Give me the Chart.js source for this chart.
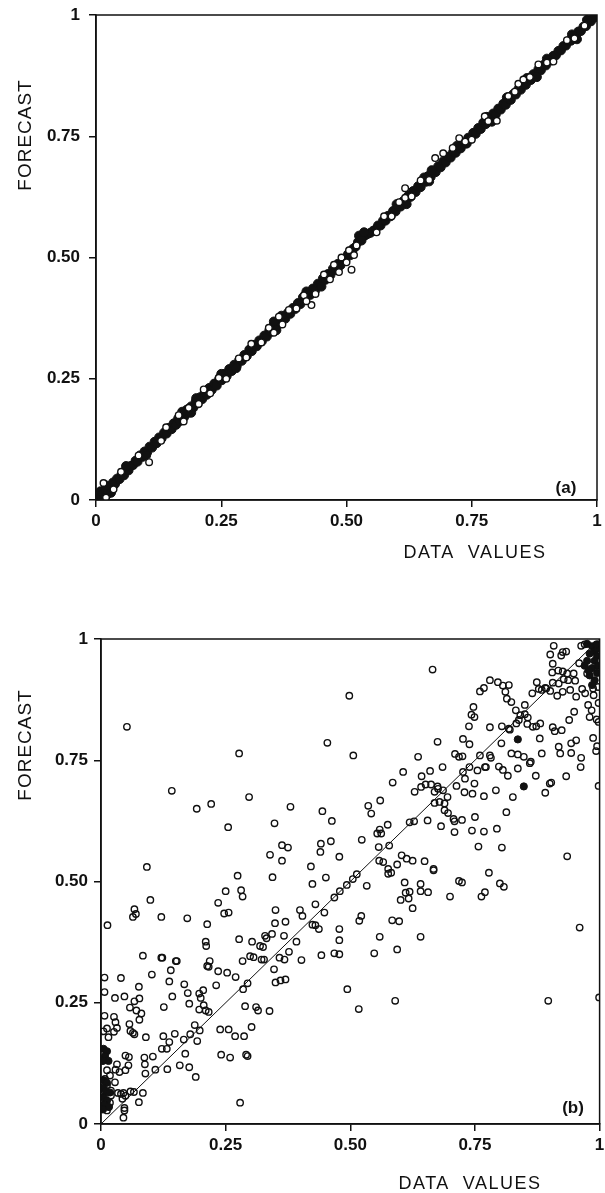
<!DOCTYPE html>
<html>
<head>
<meta charset="utf-8">
<script src="https://cdn.jsdelivr.net/npm/chart.js@4.4.1/dist/chart.umd.min.js"></script>
<style>
  html, body { margin: 0; padding: 0; background: #fff; }
  #wrap { position: relative; width: 605px; height: 1193px; }
  .panel { position: absolute; left: 0; width: 605px; }
  #panelA { top: 0; height: 600px; }
  #panelB { top: 600px; height: 593px; }
</style>
</head>
<body>
<div id="wrap">
  <div class="panel" id="panelA"><canvas id="chartA"></canvas></div>
  <div class="panel" id="panelB"><canvas id="chartB"></canvas></div>
</div>
<script>
// axis ticks (same on both panels)
const tickValues = [0, 0.25, 0.5, 0.75, 1];
const tickLabels = ["0", "0.25", "0.50", "0.75", "1"];
const xTitle = "DATA  VALUES";
const yTitle = "FORECAST";
const panelLabels = ["(a)", "(b)"];

// 1:1 reference line
const diagonal = [[0, 0], [1, 1]];

// panel (a): dense band of points on the diagonal
const topSolid = [
  [0.002,0.003],[0.004,0.012],[0.007,0.002],[0.009,0.018],[0.011,0.007],[0.014,0.013],[0.016,0.003],[0.019,0.021],[0.021,0.01],[0.024,0.017],
  [0.027,0.026],[0.031,0.024],[0.034,0.036],[0.038,0.033],[0.042,0.044],[0.047,0.043],[0.051,0.053],[0.056,0.051],[0.06,0.063],[0.065,0.061],
  [0.069,0.07],[0.074,0.072],[0.079,0.081],[0.083,0.079],[0.088,0.092],[0.093,0.089],[0.097,0.1],[0.102,0.098],[0.107,0.11],[0.112,0.108],
  [0.117,0.12],[0.121,0.117],[0.126,0.129],[0.131,0.127],[0.136,0.139],[0.141,0.137],[0.146,0.149],[0.151,0.146],[0.155,0.158],[0.16,0.155],
  [0.164,0.168],[0.168,0.163],[0.172,0.176],[0.176,0.171],[0.181,0.186],[0.185,0.18],[0.19,0.193],[0.194,0.19],[0.199,0.203],[0.203,0.199],
  [0.208,0.212],[0.212,0.208],[0.217,0.222],[0.221,0.217],[0.226,0.231],[0.231,0.227],[0.236,0.24],[0.241,0.236],[0.246,0.25],[0.251,0.247],
  [0.256,0.26],[0.261,0.256],[0.266,0.27],[0.271,0.266],[0.276,0.279],[0.281,0.277],[0.286,0.289],[0.291,0.287],[0.296,0.299],[0.301,0.297],
  [0.306,0.31],[0.311,0.307],[0.316,0.32],[0.321,0.317],[0.326,0.329],[0.331,0.327],[0.336,0.339],[0.341,0.337],[0.346,0.35],[0.35,0.347],
  [0.355,0.361],[0.359,0.356],[0.364,0.369],[0.368,0.364],[0.373,0.377],[0.378,0.374],[0.383,0.386],[0.388,0.384],[0.393,0.396],[0.398,0.394],
  [0.403,0.406],[0.408,0.404],[0.413,0.418],[0.418,0.414],[0.423,0.427],[0.428,0.423],[0.433,0.436],[0.438,0.433],[0.443,0.446],[0.448,0.444],
  [0.453,0.457],[0.458,0.454],[0.463,0.466],[0.468,0.464],[0.473,0.477],[0.478,0.474],[0.483,0.487],[0.488,0.484],[0.493,0.497],[0.498,0.495],
  [0.503,0.507],[0.508,0.505],[0.513,0.518],[0.518,0.522],[0.523,0.532],[0.528,0.538],[0.533,0.543],[0.538,0.546],[0.543,0.549],[0.548,0.551],
  [0.553,0.555],[0.558,0.558],[0.563,0.566],[0.568,0.566],[0.573,0.576],[0.578,0.576],[0.583,0.586],[0.588,0.585],[0.593,0.596],[0.598,0.595],
  [0.603,0.606],[0.608,0.605],[0.613,0.616],[0.618,0.615],[0.623,0.627],[0.628,0.625],[0.633,0.637],[0.638,0.635],[0.643,0.647],[0.648,0.645],
  [0.653,0.657],[0.658,0.656],[0.663,0.668],[0.668,0.666],[0.673,0.678],[0.678,0.676],[0.683,0.688],[0.688,0.686],[0.693,0.698],[0.698,0.696],
  [0.703,0.708],[0.708,0.706],[0.713,0.718],[0.718,0.716],[0.723,0.728],[0.728,0.725],[0.733,0.737],[0.738,0.735],[0.743,0.747],[0.748,0.745],
  [0.753,0.757],[0.758,0.755],[0.763,0.767],[0.768,0.765],[0.773,0.778],[0.778,0.775],[0.783,0.788],[0.788,0.785],[0.793,0.797],[0.798,0.795],
  [0.803,0.807],[0.808,0.805],[0.813,0.817],[0.818,0.815],[0.823,0.827],[0.828,0.825],[0.833,0.837],[0.838,0.836],[0.843,0.847],[0.848,0.846],
  [0.853,0.857],[0.858,0.856],[0.863,0.868],[0.868,0.866],[0.873,0.878],[0.878,0.876],[0.883,0.888],[0.888,0.886],[0.893,0.897],[0.898,0.896],
  [0.903,0.906],[0.908,0.906],[0.913,0.916],[0.918,0.917],[0.923,0.926],[0.928,0.927],[0.933,0.936],[0.938,0.937],[0.943,0.946],[0.948,0.947],
  [0.953,0.956],[0.958,0.957],[0.963,0.966],[0.968,0.967],[0.973,0.976],[0.978,0.977],[0.983,0.986],[0.988,0.987],[0.993,0.995],[0.997,0.996],
  // lumps where the band is thicker
  [0.02,0.03],[0.03,0.015],[0.06,0.07],[0.1,0.092],[0.172,0.182],[0.19,0.18],[0.2,0.21],[0.25,0.26],[0.28,0.272],[0.355,0.368],
  [0.36,0.35],[0.37,0.38],[0.42,0.43],[0.45,0.44],[0.525,0.545],[0.535,0.552],[0.53,0.535],[0.6,0.61],[0.62,0.61],[0.655,0.665],
  [0.665,0.657],[0.67,0.68],[0.72,0.73],[0.74,0.735],[0.78,0.79],[0.79,0.78],[0.82,0.83],[0.86,0.87],[0.88,0.872],[0.9,0.91],
  [0.95,0.96],[0.96,0.95],[0.98,0.99]
];

// panel (a): open circles along the edges of the band
const topOpen = [
  [0.015,0.035],[0.106,0.078],[0.02,0.005],[0.035,0.022],[0.05,0.058],[0.085,0.092],[0.13,0.122],[0.14,0.15],[0.165,0.175],[0.175,0.162],
  [0.185,0.19],[0.205,0.198],[0.215,0.228],[0.228,0.22],[0.245,0.252],[0.26,0.25],[0.285,0.292],[0.3,0.294],[0.31,0.322],[0.33,0.325],
  [0.345,0.355],[0.355,0.345],[0.365,0.378],[0.372,0.362],[0.385,0.392],[0.4,0.395],[0.415,0.422],[0.43,0.402],[0.42,0.41],[0.438,0.425],
  [0.455,0.465],[0.467,0.455],[0.475,0.485],[0.485,0.47],[0.49,0.5],[0.5,0.49],[0.505,0.515],[0.515,0.505],[0.52,0.525],[0.51,0.475],
  [0.56,0.552],[0.575,0.585],[0.59,0.585],[0.605,0.614],[0.617,0.643],[0.617,0.623],[0.63,0.626],[0.648,0.659],[0.665,0.66],[0.677,0.705],
  [0.693,0.715],[0.712,0.726],[0.725,0.746],[0.737,0.739],[0.75,0.743],[0.776,0.791],[0.783,0.781],[0.8,0.782],[0.823,0.833],[0.836,0.842],
  [0.843,0.858],[0.853,0.867],[0.866,0.872],[0.883,0.898],[0.9,0.902],[0.913,0.904],[0.94,0.948],[0.955,0.952],[0.975,0.978]
];

// panel (b): open circles
const bottomOpen = [
  [0.052,0.819],[0.277,0.764],[0.142,0.687],[0.192,0.65],[0.221,0.66],[0.297,0.674],[0.38,0.654],[0.255,0.612],[0.348,0.62],[0.363,0.575],
  [0.375,0.57],[0.339,0.555],[0.363,0.543],[0.092,0.53],
  [0.665,0.937],[0.498,0.883],[0.454,0.786],[0.506,0.76],[0.675,0.788],[0.636,0.757],[0.726,0.794],[0.739,0.783],
  [0.78,0.915],[0.796,0.911],[0.806,0.904],[0.818,0.905],[0.76,0.892],[0.768,0.899],[0.811,0.891],[0.814,0.877],[0.823,0.87],
  [0.747,0.86],[0.743,0.844],[0.749,0.839],[0.738,0.82],[0.78,0.818],[0.804,0.82],[0.818,0.815],
  [0.832,0.853],[0.841,0.843],[0.85,0.845],[0.856,0.838],[0.838,0.833],[0.855,0.825],[0.866,0.819],[0.873,0.82],[0.881,0.826],
  [0.85,0.864],[0.865,0.888],[0.878,0.897],[0.874,0.911],[0.891,0.899],
  [0.908,0.986],[0.901,0.968],[0.906,0.949],[0.926,0.973],[0.933,0.974],[0.923,0.966],
  [0.905,0.931],[0.917,0.935],[0.926,0.933],[0.935,0.929],[0.948,0.929],
  [0.906,0.91],[0.918,0.908],[0.928,0.917],[0.937,0.915],[0.951,0.914],
  [0.884,0.895],[0.893,0.898],[0.901,0.893],[0.915,0.883],[0.926,0.891],[0.941,0.895],
  [0.953,0.881],[0.965,0.897],[0.971,0.888],[0.987,0.898],[0.988,0.884],[0.997,0.901],
  [0.963,0.986],[0.97,0.989],[0.959,0.95],[0.975,0.929],[0.979,0.936],
  [0.998,0.868],[0.998,0.829],[0.994,0.834],[0.987,0.796],[0.995,0.779],[0.993,0.769],[0.998,0.697],
  [0.977,0.864],[0.984,0.853],[0.98,0.839],[0.949,0.85],[0.939,0.833],
  [0.953,0.791],[0.943,0.785],[0.963,0.755],[0.962,0.736],[0.933,0.717],[0.943,0.765],[0.921,0.764],[0.918,0.778],
  [0.906,0.818],[0.91,0.81],[0.924,0.812],[0.884,0.764],[0.88,0.795],[0.903,0.704],[0.9,0.702],
  [0.891,0.683],[0.872,0.718],[0.862,0.747],[0.848,0.757],[0.836,0.762],[0.823,0.764],
  [0.86,0.744],[0.836,0.733],[0.816,0.718],[0.806,0.73],[0.798,0.737],[0.803,0.785],[0.82,0.813],[0.833,0.826],
  [0.78,0.76],[0.76,0.76],[0.772,0.736],[0.755,0.729],
  [0.826,0.674],[0.813,0.643],[0.792,0.688],[0.768,0.676],[0.749,0.702],[0.745,0.681],[0.729,0.684],[0.73,0.712],
  [0.713,0.697],[0.726,0.726],[0.739,0.736],[0.77,0.736],[0.782,0.755],[0.71,0.763],[0.718,0.757],[0.725,0.758],
  [0.685,0.736],[0.66,0.728],[0.643,0.717],[0.675,0.696],
  [0.606,0.726],[0.585,0.704],[0.56,0.667],[0.536,0.656],[0.542,0.64],
  [0.629,0.685],[0.642,0.695],[0.651,0.7],[0.662,0.7],
  [0.669,0.685],[0.676,0.691],[0.686,0.688],[0.695,0.674],[0.689,0.661],[0.679,0.664],[0.669,0.662],
  [0.689,0.647],[0.696,0.641],[0.707,0.629],[0.709,0.624],[0.724,0.627],[0.709,0.602],[0.682,0.614],[0.655,0.626],[0.628,0.624],[0.619,0.622],
  [0.554,0.599],[0.562,0.599],[0.559,0.607],[0.575,0.617],[0.523,0.586],[0.478,0.551],[0.461,0.583],[0.441,0.578],[0.44,0.561],[0.444,0.645],
  [0.463,0.625],[0.421,0.531],
  [0.557,0.571],[0.578,0.574],[0.558,0.543],[0.566,0.54],[0.576,0.526],[0.594,0.535],[0.603,0.554],[0.613,0.547],[0.625,0.543],[0.649,0.542],
  [0.667,0.526],[0.757,0.572],[0.804,0.57],[0.794,0.609],[0.768,0.603],[0.744,0.605],[0.75,0.633],[0.935,0.552],
  [0.274,0.512],[0.344,0.509],[0.25,0.48],[0.281,0.482],[0.284,0.469],[0.235,0.456],[0.247,0.434],[0.256,0.436],[0.099,0.462],[0.067,0.443],
  [0.07,0.433],[0.064,0.427],[0.121,0.427],[0.173,0.424],[0.213,0.412],[0.013,0.41],[0.35,0.441],[0.37,0.417],[0.349,0.414],
  [0.277,0.381],[0.21,0.376],[0.211,0.367],[0.303,0.376],[0.329,0.388],[0.332,0.383],[0.343,0.392],[0.367,0.388],[0.392,0.376],
  [0.319,0.367],[0.325,0.365],[0.299,0.346],[0.306,0.344],[0.284,0.336],[0.322,0.339],[0.327,0.339],[0.358,0.343],[0.368,0.339],[0.377,0.355],
  [0.347,0.319],[0.35,0.292],[0.36,0.296],[0.37,0.298],
  [0.084,0.347],[0.121,0.343],[0.123,0.343],[0.152,0.336],[0.15,0.336],
  [0.04,0.301],[0.007,0.302],[0.102,0.308],[0.14,0.317],[0.137,0.294],
  [0.213,0.326],[0.216,0.324],[0.218,0.336],[0.235,0.315],[0.253,0.312],[0.27,0.303],
  [0.167,0.288],[0.231,0.286],[0.294,0.29],[0.285,0.278],
  [0.076,0.283],[0.007,0.272],[0.028,0.26],[0.047,0.263],[0.143,0.263],[0.174,0.27],[0.197,0.269],[0.2,0.26],[0.205,0.276],
  [0.177,0.248],[0.126,0.241],[0.058,0.24],
  [0.067,0.253],[0.077,0.259],[0.071,0.234],[0.081,0.228],[0.077,0.215],[0.206,0.245],[0.21,0.234],[0.216,0.231],[0.197,0.236],
  [0.007,0.223],[0.026,0.221],[0.029,0.21],[0.012,0.197],[0.005,0.191],[0.015,0.179],[0.026,0.19],[0.032,0.198],[0.057,0.206],
  [0.059,0.192],[0.064,0.188],[0.067,0.185],[0.09,0.179],[0.125,0.181],[0.148,0.186],[0.137,0.169],[0.132,0.155],[0.166,0.174],[0.179,0.185],
  [0.188,0.204],[0.193,0.171],[0.198,0.193],
  [0.122,0.155],[0.104,0.139],[0.087,0.137],[0.049,0.141],[0.056,0.138],[0.055,0.121],[0.032,0.123],[0.029,0.112],[0.037,0.107],[0.049,0.111],
  [0.088,0.123],[0.089,0.104],[0.109,0.112],[0.133,0.113],[0.158,0.121],[0.169,0.145],[0.177,0.117],[0.19,0.097],
  [0.012,0.111],[0.018,0.1],[0.008,0.093],[0.028,0.086],[0.012,0.08],[0.007,0.069],[0.02,0.069],[0.02,0.059],[0.034,0.064],[0.04,0.062],
  [0.045,0.064],[0.049,0.058],[0.059,0.067],[0.066,0.066],[0.084,0.064],[0.076,0.045],
  [0.043,0.052],[0.047,0.033],[0.047,0.028],[0.045,0.013],[0.018,0.044],[0.012,0.028],
  [0.279,0.044],[0.291,0.143],[0.241,0.143],[0.259,0.137],
  [0.239,0.195],[0.256,0.195],[0.269,0.181],[0.287,0.181],[0.294,0.14],[0.302,0.2],
  [0.289,0.243],[0.311,0.241],[0.315,0.234],[0.338,0.233],
  [0.399,0.441],[0.404,0.429],[0.402,0.338],
  [0.424,0.495],[0.451,0.508],[0.43,0.453],[0.448,0.436],[0.424,0.411],[0.43,0.41],[0.437,0.402],
  [0.468,0.467],[0.479,0.48],[0.493,0.493],[0.505,0.505],[0.513,0.515],
  [0.533,0.491],[0.576,0.516],[0.582,0.518],[0.667,0.523],
  [0.609,0.498],[0.601,0.462],[0.611,0.477],[0.619,0.479],[0.617,0.465],[0.625,0.445],[0.641,0.495],[0.641,0.48],[0.656,0.478],
  [0.7,0.469],[0.718,0.501],[0.724,0.498],[0.763,0.469],[0.77,0.478],[0.778,0.518],[0.8,0.496],[0.808,0.489],
  [0.522,0.429],[0.518,0.419],[0.478,0.402],[0.478,0.379],[0.468,0.352],[0.478,0.35],[0.442,0.348],
  [0.559,0.386],[0.548,0.352],[0.584,0.42],[0.598,0.418],[0.594,0.36],[0.641,0.386],
  [0.494,0.278],[0.517,0.237],[0.59,0.254],[0.897,0.254],[0.96,0.405],[0.999,0.261]
];

// panel (b): solid (overlapping) points
const bottomSolid = [
  [0.985,0.985],[0.99,0.975],[0.995,0.965],[0.98,0.97],[0.975,0.99],[0.99,0.955],[0.985,0.94],[0.995,0.93],[0.98,0.925],[0.99,0.915],
  [0.997,0.945],[0.975,0.955],[0.985,0.905],[0.995,0.98],[0.97,0.945],[0.978,0.935],[0.994,0.989],
  [0.005,0.155],[0.012,0.15],[0.008,0.14],[0.015,0.13],[0.004,0.13],[0.006,0.09],[0.012,0.085],[0.004,0.075],[0.01,0.068],[0.018,0.065],
  [0.005,0.055],[0.012,0.048],[0.006,0.04],[0.016,0.035],[0.004,0.03],
  [0.836,0.793],[0.848,0.696]
];

const FONT = '"Liberation Sans", Arial, Helvetica, sans-serif';
const INK = '#111';

const toXY = (arr) => arr.map(p => ({ x: p[0], y: p[1] }));

// frame + free text (axis titles, panel letter)
const panelDecor = {
  id: 'panelDecor',
  afterDraw(chart, args, o) {
    const { ctx, chartArea: a } = chart;
    ctx.save();
    ctx.strokeStyle = INK;
    ctx.lineWidth = 1.5;
    ctx.strokeRect(a.left, a.top, a.right - a.left, a.bottom - a.top);
    ctx.fillStyle = INK;
    ctx.textAlign = 'center';
    ctx.textBaseline = 'middle';

    ctx.font = '18px ' + FONT;
    ctx.letterSpacing = '1.5px';
    ctx.fillText(o.xTitle, o.xTitleAt[0], o.xTitleAt[1]);

    ctx.save();
    ctx.translate(o.yTitleAt[0], o.yTitleAt[1]);
    ctx.rotate(-Math.PI / 2);
    ctx.letterSpacing = '1px';
    ctx.font = '19px ' + FONT;
    ctx.fillText(o.yTitle, 0, 0);
    ctx.restore();

    ctx.letterSpacing = '0px';
    ctx.font = 'bold 17px ' + FONT;
    ctx.fillText(o.label, o.labelAt[0], o.labelAt[1]);
    ctx.restore();
  }
};

function axis(fitFn, pad) {
  return {
    type: 'linear',
    min: 0,
    max: 1,
    afterBuildTicks: (s) => { s.ticks = tickValues.map(v => ({ value: v })); },
    afterFit: fitFn,
    ticks: {
      callback: (v) => tickLabels[tickValues.indexOf(v)],
      font: { family: FONT, size: 17, weight: 'bold' },
      color: INK,
      padding: pad,
      autoSkip: false,
      maxRotation: 0
    },
    grid: { drawOnChartArea: false, drawTicks: true, tickLength: 7, color: INK, lineWidth: 1.5 },
    border: { display: true, color: INK, width: 1.5 }
  };
}

function makePanel(id, datasets, g, decor) {
  return new Chart(document.getElementById(id), {
    type: 'scatter',
    data: { datasets },
    options: {
      responsive: true,
      maintainAspectRatio: false,
      animation: false,
      devicePixelRatio: 1,
      events: [],
      layout: { padding: { top: g.top, right: g.right, bottom: g.bottom, left: 0 } },
      scales: {
        x: axis((s) => { s.height = 40; s.paddingLeft = 0; s.paddingRight = 0; }, 4),
        y: axis((s) => { s.width = g.yWidth; s.paddingTop = 0; s.paddingBottom = 0; }, g.yPad)
      },
      plugins: {
        legend: { display: false },
        tooltip: { enabled: false },
        panelDecor: decor
      }
    },
    plugins: [panelDecor]
  });
}

const diagLine = {
  type: 'line',
  data: toXY(diagonal),
  borderColor: INK,
  borderWidth: 1,
  pointRadius: 0,
  fill: false
};

makePanel('chartA', [
  { data: toXY(topOpen), pointRadius: 3.3, pointBorderWidth: 1.4, pointBorderColor: INK, pointBackgroundColor: '#fff' },
  { data: toXY(topSolid), pointRadius: 4.5, pointBorderWidth: 1, pointBorderColor: INK, pointBackgroundColor: INK },
  diagLine
], { top: 15, right: 8, bottom: 60, yWidth: 96, yPad: 9 }, {
  xTitle: xTitle, xTitleAt: [475, 553],
  yTitle: yTitle, yTitleAt: [26, 135],
  label: panelLabels[0], labelAt: [566, 488]
});

makePanel('chartB', [
  { data: toXY(bottomSolid), pointRadius: 3.6, pointBorderWidth: 1, pointBorderColor: INK, pointBackgroundColor: INK },
  { data: toXY(bottomOpen), pointRadius: 3.2, pointBorderWidth: 1.4, pointBorderColor: INK, pointBackgroundColor: 'rgba(255,255,255,0)' },
  Object.assign({}, diagLine, { data: toXY(diagonal) })
], { top: 39, right: 5, bottom: 29, yWidth: 101, yPad: 6 }, {
  xTitle: xTitle, xTitleAt: [470, 584],
  yTitle: yTitle, yTitleAt: [26, 145],
  label: panelLabels[1], labelAt: [573, 508]
});
</script>
</body>
</html>
